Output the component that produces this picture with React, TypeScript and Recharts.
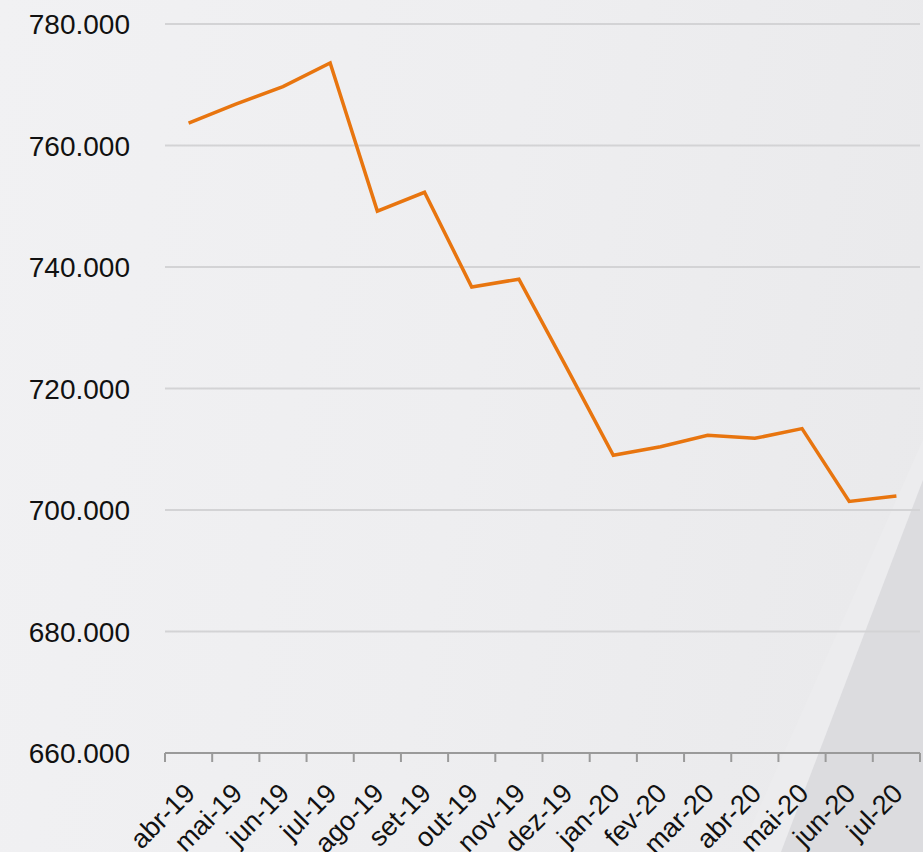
import React from 'react';
import { LineChart, Line, XAxis, YAxis, CartesianGrid } from 'recharts';

const months = [
    'abr-19', 'mai-19', 'jun-19', 'jul-19', 'ago-19', 'set-19', 'out-19', 'nov-19',
    'dez-19', 'jan-20', 'fev-20', 'mar-20', 'abr-20', 'mai-20', 'jun-20', 'jul-20',
];

const values = [
    763700, 766800, 769700, 773600, 749200, 752300, 736700, 738000,
    723600, 709000, 710400, 712300, 711800, 713400, 701400, 702300,
];

const yTicks = [660000, 680000, 700000, 720000, 740000, 760000, 780000];

const data = months.map((m, i) => ({ pos: i + 0.5, month: m, value: values[i] }));

// ticks at every boundary (integer) and every centre (half) so marks and labels can be split
const xTicks = Array.from({ length: months.length * 2 + 1 }, (_, i) => i / 2);

const fmt = (v: number) => {
    const s = Math.round(v).toString();
    return s.replace(/\B(?=(\d{3})+(?!\d))/g, '.');
};

const XTick = (props: any) => {
    const { x, y, payload } = props;
    const v = payload.value as number;
    if (Number.isInteger(v)) {
        return <line x1={x} y1={y} x2={x} y2={y + 9} stroke="#9a9a9a" strokeWidth={2} />;
    }
    const label = months[Math.floor(v)];
    const ax = x + 8;
    const ay = y + 42;
    return (
        <text
            x={ax}
            y={ay}
            transform={`rotate(-45, ${ax}, ${ay})`}
            textAnchor="end"
            fontSize={27}
            fontFamily="Liberation Sans, Arial, sans-serif"
            fill="#111"
        >
            {label}
        </text>
    );
};

const YTick = (props: any) => {
    const { x, y, payload } = props;
    return (
        <text
            x={x - 35}
            y={y + 10}
            textAnchor="end"
            fontSize={28}
            fontFamily="Liberation Sans, Arial, sans-serif"
            fill="#111"
        >
            {fmt(payload.value)}
        </text>
    );
};

export default function App() {
    return (
        <div
            style={{
                position: 'absolute',
                left: 0,
                top: 0,
                width: 923,
                height: 852,
                overflow: 'hidden',
                background: 'linear-gradient(100deg, #f1f1f3 0%, #eeeef0 50%, #e9e9eb 100%)',
            }}
        >
            <svg width={923} height={852} style={{ position: 'absolute', left: 0, top: 0 }}>
                <polygon points="740,852 923,440 923,480 781,852" fill="#ececee" />
                <polygon points="781,852 923,480 923,852" fill="#dcdcdf" />
            </svg>
            <LineChart
                width={923}
                height={852}
                data={data}
                margin={{ top: 24, right: 3, left: 0, bottom: 0 }}
                style={{ position: 'absolute', left: 0, top: 0 }}
            >
                <CartesianGrid horizontal vertical={false} stroke="#d3d3d5" strokeWidth={2} />
                <XAxis
                    dataKey="pos"
                    type="number"
                    domain={[0, months.length]}
                    ticks={xTicks}
                    interval={0}
                    height={99}
                    tickSize={0}
                    tickMargin={0}
                    tickLine={false}
                    axisLine={{ stroke: '#9a9a9a', strokeWidth: 2 }}
                    tick={<XTick />}
                />
                <YAxis
                    type="number"
                    domain={[660000, 780000]}
                    ticks={yTicks}
                    width={165}
                    axisLine={false}
                    tickLine={false}
                    tickSize={0}
                    tickMargin={0}
                    tick={<YTick />}
                />
                <Line
                    type="linear"
                    dataKey="value"
                    stroke="#e8750f"
                    strokeWidth={3.5}
                    dot={false}
                    isAnimationActive={false}
                />
            </LineChart>
        </div>
    );
}
